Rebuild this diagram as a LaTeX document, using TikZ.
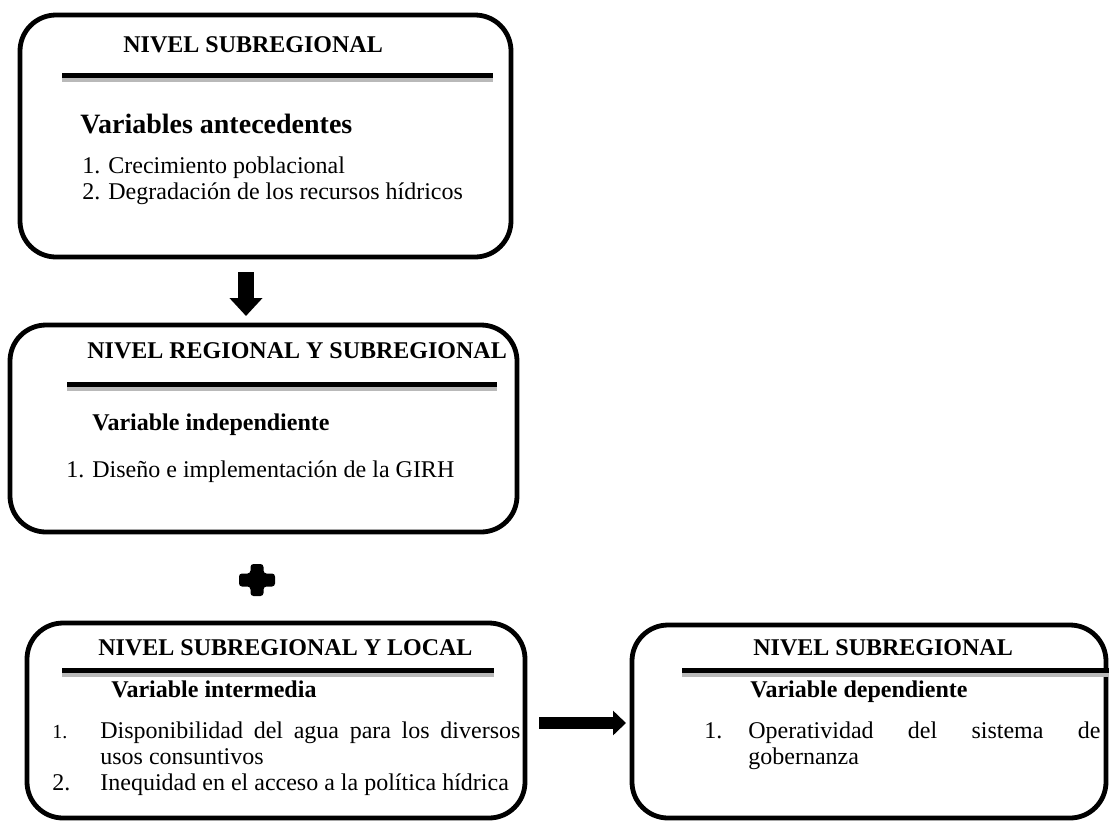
\documentclass[tikz,border=0pt]{standalone}
\usepackage{fontspec}
\setmainfont{Liberation Serif}
\usetikzlibrary{arrows.meta}

\tikzset{
  caja/.style={draw, line width=2.4pt, rounded corners=18pt, inner sep=0pt},
  txt/.style={anchor=base west, inner sep=0pt, font=\fontsize{12}{14}\selectfont},
  tit/.style={anchor=base west, inner sep=0pt, font=\fontsize{12}{14}\selectfont\bfseries},
  barra/.style={line width=2.5pt},
  sombra/.style={line width=2pt, gray!55},
  flechav/.style={line width=8pt, -{Triangle[width=16pt,length=9pt]}},
  flechah/.style={line width=6pt, -{Triangle[width=12pt,length=6.5pt]}},
}

\begin{document}
\begin{tikzpicture}[x=0.5pt, y=-0.5pt]
  \useasboundingbox (0,0) rectangle (1109,821);

  % cajas
  \node[caja, minimum width=245.5pt, minimum height=121pt]  (caja1) at (265.5,136)   {};
  \node[caja, minimum width=253.5pt, minimum height=103.5pt] (caja2) at (263.5,428.5) {};
  \node[caja, minimum width=249pt,   minimum height=97.5pt]  (caja3) at (276,720.5)   {};
  \node[caja, minimum width=237pt,   minimum height=96.5pt]  (caja4) at (869,721.5)   {};

  % separadores
  \draw[sombra] (62,80) -- (493,80);
  \draw[barra]  (62,75.5) -- (493,75.5);
  \draw[sombra] (67,389) -- (497,389);
  \draw[barra]  (67,384.5) -- (497,384.5);
  \draw[sombra] (62,675) -- (494,675);
  \draw[barra]  (62,670.5) -- (494,670.5);
  \draw[sombra] (682,675) -- (1109,675);
  \draw[barra]  (682,670.5) -- (1109,670.5);

  % caja 1
  \node[tit] (tit1) at (123,52)  {NIVEL SUBREGIONAL};
  \node[tit, font=\fontsize{14}{16}\selectfont\bfseries] (var1) at (80,133) {Variables antecedentes};
  \node[txt] (it11) at (82,173)  {1. Crecimiento poblacional};
  \node[txt] (it12) at (82,199)  {2. Degradación de los recursos hídricos};

  % caja 2
  \node[tit] (tit2) at (87,358)  {NIVEL REGIONAL Y SUBREGIONAL};
  \node[tit] (var2) at (92,430)  {Variable independiente};
  \node[txt] (it21) at (66,477)  {1. Diseño e implementación de la GIRH};

  % caja 3
  \node[tit] (tit3) at (98,655)  {NIVEL SUBREGIONAL Y LOCAL};
  \node[tit] (var3) at (111,697) {Variable intermedia};
  \node[txt, font=\fontsize{10}{12}\selectfont] (n31) at (52,738) {1.};
  \node[txt] (it31) at (100,738) {\makebox[210pt][s]{Disponibilidad del agua para los diversos}};
  \node[txt] (it32) at (100,764) {usos consuntivos};
  \node[txt] (n33)  at (52,790)  {2.};
  \node[txt] (it33) at (100,790) {Inequidad en el acceso a la política hídrica};

  % caja 4
  \node[tit] (tit4) at (753,655) {NIVEL SUBREGIONAL};
  \node[tit] (var4) at (750,697) {Variable dependiente};
  \node[txt] (n41)  at (704,738) {1.};
  \node[txt] (it41) at (748,738) {\makebox[176pt][s]{Operatividad del sistema de}};
  \node[txt] (it42) at (748,764) {gobernanza};

  % flechas y signo
  \coordinate (f1a) at (246,272);
  \coordinate (f1b) at (246,316);
  \coordinate (f2a) at (539,723);
  \coordinate (f2b) at (626,723);
  \draw[flechav] (f1a) -- (f1b);
  \draw[flechah] (f2a) -- (f2b);

  \coordinate (mas) at (257,580);
  \fill[rounded corners=1.5pt, shift={(mas)}]
    (-6.5,-16) -- (6.5,-16) -- (6.5,-6.5) -- (18,-6.5) -- (18,6.5) -- (6.5,6.5)
    -- (6.5,16) -- (-6.5,16) -- (-6.5,6.5) -- (-18,6.5) -- (-18,-6.5) -- (-6.5,-6.5) -- cycle;
\end{tikzpicture}
\end{document}
